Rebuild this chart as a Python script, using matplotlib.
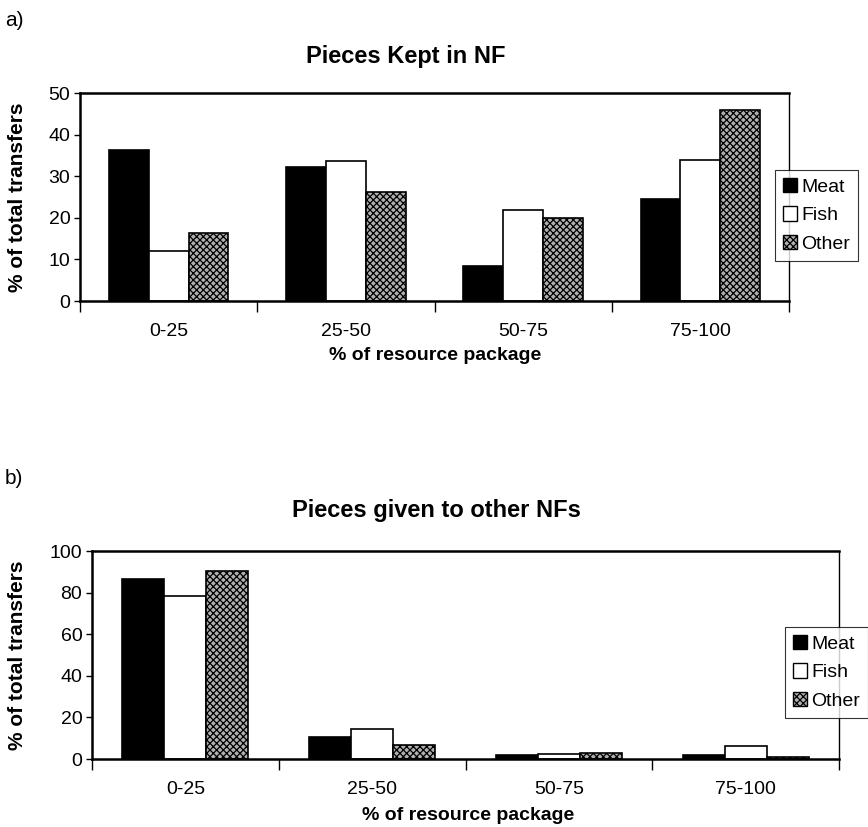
import matplotlib
matplotlib.use("Agg")
import matplotlib.pyplot as plt
import numpy as np
from matplotlib.patches import Patch

plt.rcParams["font.family"] = ["Liberation Sans", "DejaVu Sans"]
plt.rcParams["hatch.linewidth"] = 0.9

categories = ["0-25", "25-50", "50-75", "75-100"]
series = ["Meat", "Fish", "Other"]

kept_meat = [36.2, 32.3, 8.4, 24.6]
kept_fish = [12.0, 33.7, 21.8, 33.8]
kept_other = [16.3, 26.2, 20.0, 45.8]

given_meat = [86.5, 10.7, 1.8, 2.0]
given_fish = [78.3, 14.3, 2.2, 6.1]
given_other = [90.5, 6.6, 2.8, 0.9]

STYLES = {
    "Meat": dict(facecolor="black", hatch=None),
    "Fish": dict(facecolor="white", hatch=None),
    "Other": dict(facecolor="#b0b0b0", hatch="xxxxx"),
}

W, H = 868, 827


def fx(px):
    return px / W


def fy(py):
    return 1 - py / H


def draw_panel(ax, values, ymax, ystep, legend_box):
    x = np.arange(len(categories)) + 0.5
    width = 0.225
    for i, (name, vals) in enumerate(zip(series, values)):
        st = STYLES[name]
        ax.bar(x + (i - 1) * width, vals, width, facecolor=st["facecolor"],
               edgecolor="black", hatch=st["hatch"], linewidth=1.2, label=name)

    ax.set_xlim(0, len(categories))
    ax.set_ylim(0, ymax)
    ax.set_yticks(np.arange(0, ymax + 1, ystep))
    ax.set_xticks(np.arange(0, len(categories) + 1))
    ax.set_xticklabels([])
    ax.set_xticks(x, minor=True)
    ax.set_xticklabels(categories, minor=True, fontsize=14)
    ax.tick_params(axis="x", which="minor", length=0, pad=16)
    ax.tick_params(axis="x", which="major", length=8, direction="out", width=1)
    ax.tick_params(axis="y", length=4, direction="out", labelsize=14, width=1, pad=3)

    for side, spine in ax.spines.items():
        spine.set_linewidth(1.8 if side in ("top", "bottom", "left") else 1.0)
        spine.set_color("black")

    handles = [Patch(facecolor=STYLES[n]["facecolor"], edgecolor="black",
                     hatch=STYLES[n]["hatch"], label=n) for n in series]
    leg = ax.legend(handles=handles, loc="upper left", bbox_to_anchor=legend_box,
                    bbox_transform=ax.figure.transFigure, fontsize=14, frameon=True,
                    fancybox=False, edgecolor="black", handlelength=0.75, handleheight=0.75,
                    handletextpad=0.2, borderpad=0.4, labelspacing=0.55, borderaxespad=0)
    leg.get_frame().set_linewidth(0.8)


fig = plt.figure(figsize=(8.68, 8.27), dpi=100)
fig.patch.set_facecolor("white")

# panel a
ax1 = fig.add_axes([fx(80), fy(301), fx(789) - fx(80), fy(93) - fy(301)])
draw_panel(ax1, [kept_meat, kept_fish, kept_other], 50, 10, (fx(775), fy(170)))
fig.text(fx(406), fy(57), "Pieces Kept in NF", fontsize=17, fontweight="bold",
         ha="center", va="center")
fig.text(fx(435), fy(355), "% of resource package", fontsize=14, fontweight="bold",
         ha="center", va="center")
fig.text(fx(18), fy(197), "% of total transfers", fontsize=15, fontweight="bold",
         rotation=90, ha="center", va="center")

# panel b
ax2 = fig.add_axes([fx(92), fy(759), fx(839) - fx(92), fy(551) - fy(759)])
draw_panel(ax2, [given_meat, given_fish, given_other], 100, 20, (fx(785), fy(627)))
fig.text(fx(436), fy(510), "Pieces given to other NFs", fontsize=17, fontweight="bold",
         ha="center", va="center")
fig.text(fx(468), fy(815), "% of resource package", fontsize=14, fontweight="bold",
         ha="center", va="center")
fig.text(fx(18), fy(655), "% of total transfers", fontsize=15, fontweight="bold",
         rotation=90, ha="center", va="center")

fig.text(fx(5), fy(20), "a)", fontsize=15, va="center", ha="left")
fig.text(fx(5), fy(479), "b)", fontsize=15, va="center", ha="left")

fig.savefig("out.png", dpi=100, facecolor="white")
